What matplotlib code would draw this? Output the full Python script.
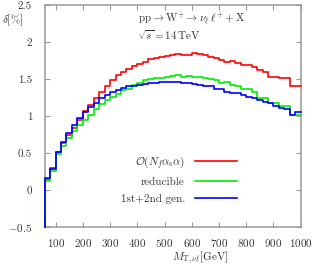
import numpy as np
import matplotlib
matplotlib.use("Agg")
import matplotlib.pyplot as plt

plt.rcParams["font.family"] = "serif"
plt.rcParams["font.serif"] = ["cmr10"]
plt.rcParams["mathtext.fontset"] = "cm"
plt.rcParams["axes.formatter.use_mathtext"] = True

# bin edges of the M_T histogram (20 GeV bins)
bin_edges = [60, 80, 100, 120, 140, 160, 180, 200, 220, 240, 260, 280, 300, 320,
             340, 360, 380, 400, 420, 440, 460, 480, 500, 520, 540, 560, 580, 600,
             620, 640, 660, 680, 700, 720, 740, 760, 780, 800, 820, 840, 860, 880,
             900, 920, 940, 960, 980, 1000]

delta_nf = [0.15, 0.30, 0.51, 0.63, 0.74, 0.84, 0.95, 1.07, 1.15, 1.24, 1.33, 1.41,
            1.48, 1.55, 1.60, 1.64, 1.67, 1.70, 1.73, 1.77, 1.79, 1.80, 1.81, 1.82,
            1.84, 1.83, 1.83, 1.85, 1.84, 1.82, 1.80, 1.78, 1.76, 1.73, 1.75, 1.71,
            1.69, 1.69, 1.66, 1.62, 1.60, 1.53, 1.53, 1.51, 1.51, 1.40, 1.40]

delta_red = [0.12, 0.26, 0.48, 0.60, 0.70, 0.80, 0.88, 0.95, 1.02, 1.10, 1.16, 1.22,
             1.26, 1.30, 1.35, 1.37, 1.42, 1.45, 1.48, 1.50, 1.51, 1.52, 1.53, 1.54,
             1.56, 1.53, 1.54, 1.53, 1.53, 1.51, 1.50, 1.48, 1.44, 1.46, 1.42, 1.40,
             1.37, 1.37, 1.33, 1.24, 1.24, 1.18, 1.18, 1.14, 1.14, 1.02, 1.01]

delta_gen = [0.16, 0.29, 0.52, 0.65, 0.77, 0.88, 0.97, 1.05, 1.12, 1.18, 1.24, 1.28,
             1.33, 1.35, 1.38, 1.40, 1.41, 1.42, 1.43, 1.44, 1.45, 1.46, 1.46, 1.46,
             1.46, 1.45, 1.44, 1.43, 1.42, 1.41, 1.40, 1.36, 1.37, 1.33, 1.31, 1.31,
             1.29, 1.26, 1.24, 1.21, 1.19, 1.17, 1.13, 1.11, 1.09, 1.02, 1.05]

labels = [r"$\mathcal{O}(N_f\alpha_{\rm s}\alpha)$", "reducible", "1st+2nd gen."]
colors = ["#ff0000", "#00ee00", "#0000ff"]

ymin, ymax = -0.5, 2.5
txt = "#333333"

fig = plt.figure(figsize=(3.14, 2.66), dpi=100)
ax = fig.add_axes([0.1424, 0.1466, 0.8152, 0.8346])

for vals, lab, col in zip([delta_nf, delta_red, delta_gen], labels, colors):
    xs = np.r_[bin_edges[0], bin_edges]
    ys = np.r_[ymin, vals, vals[-1]]
    ax.plot(xs, ys, drawstyle="steps-post", color=col, lw=1.2, label=lab,
            zorder=3, clip_on=False)

ax.set_xlim(60, 1000)
ax.set_ylim(ymin, ymax)
ax.set_xticks(np.arange(100, 1001, 100))
ax.set_yticks(np.arange(-0.5, 2.51, 0.5))
ax.set_yticklabels(["$-0.5$", "0", "0.5", "1", "1.5", "2", "2.5"])

for s in ax.spines.values():
    s.set_color("#999999")
    s.set_linewidth(1.1)
ax.tick_params(direction="in", top=True, right=True, length=3.5, width=0.8,
               color="#999999", labelsize=8, labelcolor=txt)
ax.tick_params(axis="x", pad=7)
ax.tick_params(axis="y", pad=9)

ax.text(0.364, 0.937, r"$\mathrm{pp}\rightarrow\mathrm{W}^{+}\rightarrow\nu_\ell\,\ell^{+} + \mathrm{X}$",
        transform=ax.transAxes, fontsize=8, color=txt, va="center", ha="left")
ax.text(0.364, 0.862, r"$\sqrt{s}=14\,\mathrm{TeV}$",
        transform=ax.transAxes, fontsize=8, color=txt, va="center", ha="left")

leg = ax.legend(loc="upper right", bbox_to_anchor=(0.752, 0.33), frameon=False,
                markerfirst=False, fontsize=8, handlelength=3.8, handletextpad=0.9,
                labelspacing=0.6, borderpad=0, borderaxespad=0)
for t in leg.get_texts():
    t.set_color(txt)

fig.text(0.005, 1 - 20 / 266, r"$\delta[\%]$", fontsize=8, color=txt,
         va="center", ha="left")
fig.text(0.637, 0.03, r"$M_{\mathrm{T},\nu\ell}[\mathrm{GeV}]$", fontsize=8,
         color=txt, va="center", ha="center")

fig.savefig("out.png", dpi=100)
